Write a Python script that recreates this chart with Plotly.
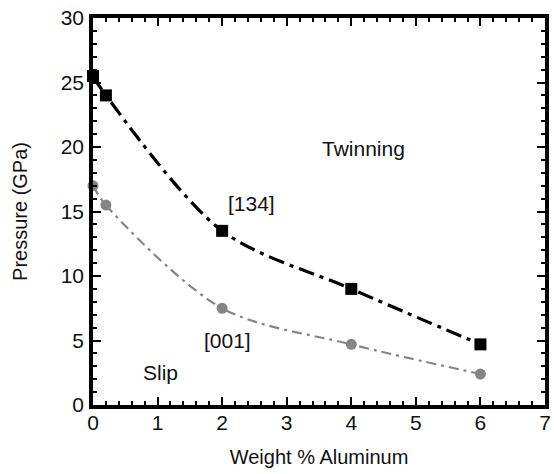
import plotly.graph_objects as go

# Aluminium content (wt %) and transition pressures (GPa)
al_wt = [0, 0.2, 2, 4, 6]
p_134 = [25.5, 24.0, 13.5, 9.0, 4.7]
p_001 = [17.0, 15.5, 7.5, 4.7, 2.4]

x_ticks = [0, 1, 2, 3, 4, 5, 6, 7]
y_ticks = [0, 5, 10, 15, 20, 25, 30]

font = "Liberation Sans, Arial, sans-serif"
ink = "#111"

fig = go.Figure()
fig.add_trace(go.Scatter(
    x=al_wt, y=p_001, mode="lines+markers", name="[001]", cliponaxis=False,
    line=dict(color="#858585", width=2.2, dash="10px,5px,3px,5px", shape="spline", smoothing=0.9),
    marker=dict(symbol="circle", size=11, color="#858585"),
))
fig.add_trace(go.Scatter(
    x=al_wt, y=p_134, mode="lines+markers", name="[134]", cliponaxis=False,
    line=dict(color="black", width=3.2, dash="16px,6px,4px,6px", shape="spline", smoothing=0.9),
    marker=dict(symbol="square", size=12, color="black"),
))

labels = [
    ("Twinning", 4.19, 19.9),
    ("[134]", 2.45, 15.6),
    ("[001]", 2.09, 5.0),
    ("Slip", 1.05, 2.5),
]
for txt, xx, yy in labels:
    fig.add_annotation(x=xx, y=yy, text=txt, showarrow=False,
                       font=dict(family=font, size=21, color=ink))

axis_common = dict(
    showline=True, linecolor="black", linewidth=3.5, mirror="ticks",
    ticks="inside", ticklen=8, tickwidth=2, tickcolor="black",
    showgrid=False, zeroline=False,
    tickfont=dict(family=font, size=21, color=ink),
)

fig.update_xaxes(
    range=[0, 7], tickvals=x_ticks, ticklabelstandoff=-4,
    minor=dict(ticks="inside", ticklen=4, tickwidth=1.8, tickcolor="black", dtick=0.2),
    title=dict(text="Weight % Aluminum", font=dict(family=font, size=20, color=ink), standoff=18),
    **axis_common,
)
fig.update_yaxes(
    range=[0, 30], tickvals=y_ticks, ticklabelstandoff=1,
    minor=dict(ticks="inside", ticklen=4, tickwidth=1.8, tickcolor="black", dtick=1),
    title=dict(text="Pressure (GPa)", font=dict(family=font, size=20, color=ink), standoff=29),
    **axis_common,
)

fig.update_layout(
    width=554, height=474,
    margin=dict(l=93, r=3, t=18, b=69),
    plot_bgcolor="white", paper_bgcolor="white",
    showlegend=False,
)

fig.write_html("out.html")
